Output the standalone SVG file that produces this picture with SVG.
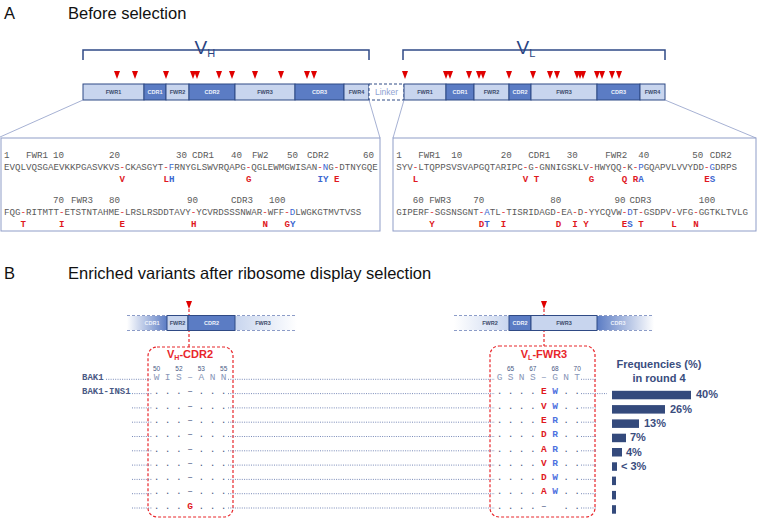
<svg xmlns="http://www.w3.org/2000/svg" width="757" height="519" viewBox="0 0 757 519">
<style>
.h{font-family:"Liberation Sans",Arial,sans-serif;fill:#111}
.lt{fill:#c8d5ee;stroke:#2f4a85;stroke-width:1}
.dk{fill:#5b7cc4;stroke:#2f4a85;stroke-width:1}
.st{font-family:"Liberation Sans",Arial,sans-serif;font-size:5.5px;font-weight:bold;text-anchor:middle}
.tl{fill:#3c4a6a}
.td{fill:#eef2fb}
.brace{fill:none;stroke:#2f4a87;stroke-width:1.5}
.vl{font-family:"Liberation Sans",Arial,sans-serif;fill:#2a4482}
.box{fill:#fff;stroke:#8f9dc8;stroke-width:1}
.cn{stroke:#8f9dc8;stroke-width:0.8;fill:none}
.seq{font-family:"Liberation Mono","Courier New",monospace;font-size:9.1667px;fill:#5a5a5a}
.mut{font-family:"Liberation Mono","Courier New",monospace;font-size:9.1667px;font-weight:bold;fill:#e0181e}
.r{fill:#e0181e}
.b{fill:#3b66d0}
.mb{fill:#3b66d0}
.red{fill:none;stroke:#e8262b;stroke-width:1.2;stroke-dasharray:3 2}
.dot{stroke:#6a7db0;stroke-width:0.9;stroke-dasharray:1 1.3}
.rl{font-family:"Liberation Mono","Courier New",monospace;font-size:9px;font-weight:bold;fill:#4a5a85}
.ch{font-family:"Liberation Mono","Courier New",monospace;font-size:9.5px;text-anchor:middle;fill:#4a5a85}
.wt{fill:#8896b8}
.cr{font-weight:bold;fill:#e0181e}
.cb{font-weight:bold;fill:#4d72e0}
.pn{font-family:"Liberation Sans",Arial,sans-serif;font-size:6.5px;text-anchor:middle;fill:#4a5a85}
.bar{fill:#344a7c}
.fq{font-family:"Liberation Sans",Arial,sans-serif;font-size:11px;font-weight:bold;fill:#3a4d7e}
.dsh{stroke:#8c9cc8;stroke-width:1;stroke-dasharray:3 2}
</style>
<defs>
<path id="tri" d="M-3,0 L3,0 L0,8 Z" fill="#e00000"/>
<linearGradient id="fadeDkL" x1="0" x2="1" y1="0" y2="0"><stop offset="0" stop-color="#5b7cc4" stop-opacity="0"/><stop offset="1" stop-color="#5b7cc4" stop-opacity="1"/></linearGradient>
<linearGradient id="fadeDkR" x1="0" x2="1" y1="0" y2="0"><stop offset="0" stop-color="#5b7cc4" stop-opacity="1"/><stop offset="1" stop-color="#5b7cc4" stop-opacity="0"/></linearGradient>
<linearGradient id="fadeLtL" x1="0" x2="1" y1="0" y2="0"><stop offset="0" stop-color="#c8d5ee" stop-opacity="0"/><stop offset="1" stop-color="#c8d5ee" stop-opacity="1"/></linearGradient>
<linearGradient id="fadeLtR" x1="0" x2="1" y1="0" y2="0"><stop offset="0" stop-color="#c8d5ee" stop-opacity="1"/><stop offset="1" stop-color="#c8d5ee" stop-opacity="0"/></linearGradient>
</defs>

<!-- Headings -->
<text class="h" x="4" y="18.5" font-size="16.5">A</text>
<text class="h" x="68" y="18.5" font-size="16.5">Before selection</text>
<text class="h" x="4" y="279" font-size="16.5">B</text>
<text class="h" x="68" y="279" font-size="16.5">Enriched variants after ribosome display selection</text>

<!-- Braces and chain labels -->
<g id="vh-label">
<path class="brace" d="M83,60 V50 H369 V60"/>
<text class="vl" x="194.5" y="54" font-size="19">V<tspan font-size="11" dy="2.5">H</tspan></text>
</g>
<g id="vl-label">
<path class="brace" d="M403,60 V50 H665 V60"/>
<text class="vl" x="516.5" y="54" font-size="19">V<tspan font-size="11" dy="2.5">L</tspan></text>
</g>

<!-- Triangles top -->
<g id="markers-top">
<use href="#tri" x="117" y="71"/><use href="#tri" x="135" y="71"/><use href="#tri" x="166" y="71"/>
<use href="#tri" x="193" y="71"/><use href="#tri" x="197" y="71"/><use href="#tri" x="219" y="71"/>
<use href="#tri" x="232" y="71"/><use href="#tri" x="255" y="71"/><use href="#tri" x="281" y="71"/>
<use href="#tri" x="307" y="71"/><use href="#tri" x="314" y="71"/>
<use href="#tri" x="405" y="71"/><use href="#tri" x="446" y="71"/><use href="#tri" x="450" y="71"/>
<use href="#tri" x="469" y="71"/><use href="#tri" x="479" y="71"/><use href="#tri" x="483" y="71"/>
<use href="#tri" x="509" y="71"/><use href="#tri" x="533" y="71"/><use href="#tri" x="550" y="71"/>
<use href="#tri" x="557" y="71"/><use href="#tri" x="577" y="71"/><use href="#tri" x="580" y="71"/>
<use href="#tri" x="583" y="71"/><use href="#tri" x="597" y="71"/><use href="#tri" x="602" y="71"/>
<use href="#tri" x="612" y="71"/><use href="#tri" x="619" y="71"/>
</g>

<!-- Top domain bar -->
<g id="vh-fwr1"><rect class="lt" x="83" y="84" width="61" height="16"/><text class="st tl" x="113.5" y="94">FWR1</text></g>
<g id="vh-cdr1"><rect class="dk" x="144" y="84" width="22" height="16"/><text class="st td" x="155" y="94">CDR1</text></g>
<g id="vh-fwr2"><rect class="lt" x="166" y="84" width="23" height="16"/><text class="st tl" x="177.5" y="94">FWR2</text></g>
<g id="vh-cdr2"><rect class="dk" x="189" y="84" width="46" height="16"/><text class="st td" x="212" y="94">CDR2</text></g>
<g id="vh-fwr3"><rect class="lt" x="235" y="84" width="60" height="16"/><text class="st tl" x="265" y="94">FWR3</text></g>
<g id="vh-cdr3"><rect class="dk" x="295" y="84" width="49" height="16"/><text class="st td" x="319.5" y="94">CDR3</text></g>
<g id="vh-fwr4"><rect class="lt" x="344" y="84" width="25" height="16"/><text class="st tl" x="356.5" y="94">FWR4</text></g>
<g id="linker"><rect x="369" y="84" width="35" height="16" fill="#fff" stroke="#2f4a85" stroke-width="1" stroke-dasharray="3 2"/><text x="386.5" y="95" font-family="Liberation Sans,Arial,sans-serif" font-size="8.5" text-anchor="middle" fill="#8ea2d2">Linker</text></g>
<g id="vl-fwr1"><rect class="lt" x="404" y="84" width="42" height="16"/><text class="st tl" x="425" y="94">FWR1</text></g>
<g id="vl-cdr1"><rect class="dk" x="446" y="84" width="28" height="16"/><text class="st td" x="460" y="94">CDR1</text></g>
<g id="vl-fwr2"><rect class="lt" x="474" y="84" width="35" height="16"/><text class="st tl" x="491.5" y="94">FWR2</text></g>
<g id="vl-cdr2"><rect class="dk" x="509" y="84" width="22" height="16"/><text class="st td" x="520" y="94">CDR2</text></g>
<g id="vl-fwr3"><rect class="lt" x="531" y="84" width="66" height="16"/><text class="st tl" x="564" y="94">FWR3</text></g>
<g id="vl-cdr3"><rect class="dk" x="597" y="84" width="43" height="16"/><text class="st td" x="618.5" y="94">CDR3</text></g>
<g id="vl-fwr4"><rect class="lt" x="640" y="84" width="25" height="16"/><text class="st tl" x="652.5" y="94">FWR4</text></g>

<!-- Connectors -->
<g id="connectors">
<path class="cn" d="M83,100 L0,137"/>
<path class="cn" d="M369,100 L380,138"/>
<path class="cn" d="M404,100 L393,138"/>
<path class="cn" d="M665,100 L756,138"/>
<path d="M189,309 V347" stroke="#e8262b" stroke-width="1.2" stroke-dasharray="3 2"/>
<path d="M544,309 V346" stroke="#e8262b" stroke-width="1.2" stroke-dasharray="3 2"/>
</g>

<!-- VH sequence box -->
<g id="vh-seq">
<rect class="box" x="1" y="138" width="379" height="93"/>
<g class="seq">
<text x="4" y="158">1</text><text x="26" y="158">FWR1</text><text x="53" y="158">10</text><text x="109" y="158">20</text><text x="176" y="158">30</text><text x="192" y="158">CDR1</text><text x="231" y="158">40</text><text x="252" y="158">FW2</text><text x="287" y="158">50</text><text x="307" y="158">CDR2</text><text x="363" y="158">60</text>
<text x="4" y="170">EVQLVQSGAEVKKPGASVKVS<tspan class="r">-</tspan>CKASGYT<tspan class="r">-</tspan><tspan class="b">F</tspan>RNYGLSWVRQAPG<tspan class="r">-</tspan>QGLEWMGWISAN<tspan class="r">-</tspan><tspan class="b">N</tspan>G<tspan class="r">-</tspan>DTNYGQE</text>
<text x="53" y="203">70</text><text x="71" y="203">FWR3</text><text x="109" y="203">80</text><text x="187" y="203">90</text><text x="231" y="203">CDR3</text><text x="269" y="203">100</text>
<text x="4" y="215">FQG<tspan class="r">-</tspan>RITMTT<tspan class="r">-</tspan>ETSTNTAHME<tspan class="r">-</tspan>LRSLRSDDTAVY<tspan class="r">-</tspan>YCVRDSSSNWAR<tspan class="r">-</tspan>WFF<tspan class="r">-</tspan><tspan class="b">D</tspan>LWGKGTMVTVSS</text>
</g>
<g class="mut">
<text x="119.5" y="182">V</text><text x="163.5" y="182">L</text><text x="169" y="182" class="mb">H</text><text x="246" y="182">G</text><text x="317.5" y="182" class="mb">I</text><text x="323" y="182" class="mb">Y</text><text x="334" y="182">E</text>
<text x="20.5" y="227">T</text><text x="59" y="227">I</text><text x="119.5" y="227">E</text><text x="191" y="227">H</text><text x="262.5" y="227">N</text><text x="284.5" y="227">G</text><text x="290" y="227" class="mb">Y</text>
</g>
</g>

<!-- VL sequence box -->
<g id="vl-seq">
<rect class="box" x="393" y="138" width="363" height="93"/>
<g class="seq">
<text x="396.3" y="158">1</text><text x="418.3" y="158">FWR1</text><text x="451.3" y="158">10</text><text x="500.8" y="158">20</text><text x="528.3" y="158">CDR1</text><text x="566.8" y="158">30</text><text x="605.3" y="158">FWR2</text><text x="638.3" y="158">40</text><text x="692.3" y="158">50</text><text x="709.8" y="158">CDR2</text>
<text x="396.3" y="170">SYV<tspan class="r">-</tspan>LTQPPSVSVAPGQTARIPC<tspan class="r">-</tspan>G<tspan class="r">-</tspan>GNNIGSKLV<tspan class="r">-</tspan>HWYQQ<tspan class="r">-</tspan>K<tspan class="r">-</tspan><tspan class="b">P</tspan>GQAPVLVVYDD<tspan class="r">-</tspan><tspan class="b">G</tspan>DRPS</text>
<text x="412.8" y="203">60</text><text x="429.3" y="203">FWR3</text><text x="473.3" y="203">70</text><text x="550.3" y="203">80</text><text x="614.5" y="203">90</text><text x="629.5" y="203">CDR3</text><text x="698.8" y="203">100</text>
<text x="396.3" y="215">GIPERF<tspan class="r">-</tspan>SGSNSGNT<tspan class="r">-</tspan><tspan class="b">A</tspan>TL<tspan class="r">-</tspan>TISRIDAGD<tspan class="r">-</tspan>EA<tspan class="r">-</tspan>D<tspan class="r">-</tspan>YYCQVW<tspan class="r">-</tspan><tspan class="b">D</tspan>T<tspan class="r">-</tspan>GSDPV<tspan class="r">-</tspan>VFG<tspan class="r">-</tspan>GGTKLTVLG</text>
</g>
<g class="mut">
<text x="412.8" y="182">L</text><text x="522.8" y="182">V</text><text x="533.8" y="182">T</text><text x="588.8" y="182">G</text><text x="621.8" y="182">Q</text><text x="632.8" y="182">R</text><text x="638.3" y="182" class="mb">A</text><text x="704.3" y="182">E</text><text x="709.8" y="182" class="mb">S</text>
<text x="429.3" y="227">Y</text><text x="478.8" y="227">D</text><text x="484.3" y="227" class="mb">T</text><text x="500.8" y="227">I</text><text x="555.8" y="227">D</text><text x="572.3" y="227">I</text><text x="583.3" y="227">Y</text><text x="621.8" y="227">E</text><text x="627.3" y="227" class="mb">S</text><text x="638.3" y="227">T</text><text x="671.3" y="227">L</text><text x="693.3" y="227">N</text>
</g>
</g>

<!-- Section B domain bars -->
<g id="b-vh-bar">
<line class="dsh" x1="127" y1="315.5" x2="297" y2="315.5"/>
<line class="dsh" x1="127" y1="330.5" x2="297" y2="330.5"/>
<rect x="127" y="316" width="40" height="14" fill="url(#fadeDkL)"/>
<rect x="235" y="316" width="62" height="14" fill="url(#fadeLtR)"/>
<rect class="lt" x="167" y="315.5" width="21" height="15"/>
<rect class="dk" x="188" y="315.5" width="47" height="15"/>
<text class="st td" x="152" y="325">CDR1</text>
<text class="st tl" x="177.5" y="325">FWR2</text>
<text class="st td" x="211.5" y="325">CDR2</text>
<text class="st tl" x="263" y="325">FWR3</text>
<use href="#tri" x="189" y="301"/>
</g>
<g id="b-vl-bar">
<line class="dsh" x1="454" y1="315.5" x2="654" y2="315.5"/>
<line class="dsh" x1="454" y1="330.5" x2="654" y2="330.5"/>
<rect x="454" y="316" width="55" height="14" fill="url(#fadeLtL)"/>
<rect x="597" y="316" width="57" height="14" fill="url(#fadeDkR)"/>
<rect class="dk" x="509" y="315.5" width="22" height="15"/>
<rect class="lt" x="531" y="315.5" width="66" height="15"/>
<text class="st tl" x="490" y="325">FWR2</text>
<text class="st td" x="520" y="325">CDR2</text>
<text class="st tl" x="564" y="325">FWR3</text>
<text class="st td" x="618" y="325">CDR3</text>
<use href="#tri" x="544" y="301"/>
</g>

<!-- Highlight boxes -->
<g id="vh-cdr2-box">
<rect class="red" x="148" y="347" width="85" height="170" rx="9"/>
<text x="190" y="358" text-anchor="middle" font-family="Liberation Sans,Arial,sans-serif" font-size="11" font-weight="bold" fill="#e8262b">V<tspan font-size="7" dy="2">H</tspan><tspan dy="-2">-CDR2</tspan></text>
<text class="pn" x="156.5" y="371">50</text><text class="pn" x="178.9" y="371">52</text><text class="pn" x="201.3" y="371">53</text><text class="pn" x="223.7" y="371">55</text>
</g>
<g id="vl-fwr3-box">
<rect class="red" x="490" y="346" width="105" height="171" rx="9"/>
<text x="544" y="358" text-anchor="middle" font-family="Liberation Sans,Arial,sans-serif" font-size="11" font-weight="bold" fill="#e8262b">V<tspan font-size="7" dy="2">L</tspan><tspan dy="-2">-FWR3</tspan></text>
<text class="pn" x="510.6" y="371">65</text><text class="pn" x="532.8" y="371">67</text><text class="pn" x="555" y="371">68</text><text class="pn" x="577.2" y="371">70</text>
</g>

<!-- Alignment rows -->
<g id="rows-lines">
<line class="dot" x1="106" y1="379.3" x2="152" y2="379.3"/><line class="dot" x1="228" y1="379.3" x2="495" y2="379.3"/><line class="dot" x1="581" y1="379.3" x2="597" y2="379.3"/>
<line class="dot" x1="132" y1="393.6" x2="152" y2="393.6"/><line class="dot" x1="228" y1="393.6" x2="495" y2="393.6"/><line class="dot" x1="581" y1="393.6" x2="607" y2="393.6"/>
<line class="dot" x1="132" y1="407.9" x2="152" y2="407.9"/><line class="dot" x1="228" y1="407.9" x2="495" y2="407.9"/><line class="dot" x1="581" y1="407.9" x2="597" y2="407.9"/>
<line class="dot" x1="132" y1="422.2" x2="152" y2="422.2"/><line class="dot" x1="228" y1="422.2" x2="495" y2="422.2"/><line class="dot" x1="581" y1="422.2" x2="597" y2="422.2"/>
<line class="dot" x1="132" y1="436.5" x2="152" y2="436.5"/><line class="dot" x1="228" y1="436.5" x2="495" y2="436.5"/><line class="dot" x1="581" y1="436.5" x2="597" y2="436.5"/>
<line class="dot" x1="132" y1="450.8" x2="152" y2="450.8"/><line class="dot" x1="228" y1="450.8" x2="495" y2="450.8"/><line class="dot" x1="581" y1="450.8" x2="597" y2="450.8"/>
<line class="dot" x1="132" y1="465.1" x2="152" y2="465.1"/><line class="dot" x1="228" y1="465.1" x2="495" y2="465.1"/><line class="dot" x1="581" y1="465.1" x2="597" y2="465.1"/>
<line class="dot" x1="132" y1="479.4" x2="152" y2="479.4"/><line class="dot" x1="228" y1="479.4" x2="495" y2="479.4"/><line class="dot" x1="581" y1="479.4" x2="597" y2="479.4"/>
<line class="dot" x1="132" y1="493.7" x2="152" y2="493.7"/><line class="dot" x1="228" y1="493.7" x2="495" y2="493.7"/><line class="dot" x1="581" y1="493.7" x2="597" y2="493.7"/>
<line class="dot" x1="132" y1="508" x2="152" y2="508"/><line class="dot" x1="228" y1="508" x2="495" y2="508"/><line class="dot" x1="581" y1="508" x2="597" y2="508"/>
</g>

<g id="row-bak1">
<text class="rl" x="82" y="380">BAK1</text>
<g class="ch wt">
<text x="156.5" y="380">W</text><text x="167.7" y="380">I</text><text x="178.9" y="380">S</text><text x="190.1" y="380">–</text><text x="201.3" y="380">A</text><text x="212.5" y="380">N</text><text x="223.7" y="380">N</text>
<text x="499.5" y="380">G</text><text x="510.6" y="380">S</text><text x="521.7" y="380">N</text><text x="532.8" y="380">S</text><text x="543.9" y="380">–</text><text x="555" y="380">G</text><text x="566.1" y="380">N</text><text x="577.2" y="380">T</text>
</g>
</g>
<g id="row-ins1">
<text class="rl" x="82" y="394.3">BAK1-INS1</text>
<g class="ch">
<text x="156.5" y="394.3">.</text><text x="167.7" y="394.3">.</text><text x="178.9" y="394.3">.</text><text x="190.1" y="394.3">–</text><text x="201.3" y="394.3">.</text><text x="212.5" y="394.3">.</text><text x="223.7" y="394.3">.</text>
<text x="499.5" y="394.3">.</text><text x="510.6" y="394.3">.</text><text x="521.7" y="394.3">.</text><text x="532.8" y="394.3">.</text><text x="543.9" y="394.3" class="cr">E</text><text x="555" y="394.3" class="cb">W</text><text x="566.1" y="394.3">.</text><text x="577.2" y="394.3">.</text>
</g>
</g>
<g id="row-3" class="ch">
<text x="156.5" y="408.6">.</text><text x="167.7" y="408.6">.</text><text x="178.9" y="408.6">.</text><text x="190.1" y="408.6">–</text><text x="201.3" y="408.6">.</text><text x="212.5" y="408.6">.</text><text x="223.7" y="408.6">.</text>
<text x="499.5" y="408.6">.</text><text x="510.6" y="408.6">.</text><text x="521.7" y="408.6">.</text><text x="532.8" y="408.6">.</text><text x="543.9" y="408.6" class="cr">V</text><text x="555" y="408.6" class="cb">W</text><text x="566.1" y="408.6">.</text><text x="577.2" y="408.6">.</text>
</g>
<g id="row-4" class="ch">
<text x="156.5" y="422.9">.</text><text x="167.7" y="422.9">.</text><text x="178.9" y="422.9">.</text><text x="190.1" y="422.9">–</text><text x="201.3" y="422.9">.</text><text x="212.5" y="422.9">.</text><text x="223.7" y="422.9">.</text>
<text x="499.5" y="422.9">.</text><text x="510.6" y="422.9">.</text><text x="521.7" y="422.9">.</text><text x="532.8" y="422.9">.</text><text x="543.9" y="422.9" class="cr">E</text><text x="555" y="422.9" class="cb">R</text><text x="566.1" y="422.9">.</text><text x="577.2" y="422.9">.</text>
</g>
<g id="row-5" class="ch">
<text x="156.5" y="437.2">.</text><text x="167.7" y="437.2">.</text><text x="178.9" y="437.2">.</text><text x="190.1" y="437.2">–</text><text x="201.3" y="437.2">.</text><text x="212.5" y="437.2">.</text><text x="223.7" y="437.2">.</text>
<text x="499.5" y="437.2">.</text><text x="510.6" y="437.2">.</text><text x="521.7" y="437.2">.</text><text x="532.8" y="437.2">.</text><text x="543.9" y="437.2" class="cr">D</text><text x="555" y="437.2" class="cb">R</text><text x="566.1" y="437.2">.</text><text x="577.2" y="437.2">.</text>
</g>
<g id="row-6" class="ch">
<text x="156.5" y="451.5">.</text><text x="167.7" y="451.5">.</text><text x="178.9" y="451.5">.</text><text x="190.1" y="451.5">–</text><text x="201.3" y="451.5">.</text><text x="212.5" y="451.5">.</text><text x="223.7" y="451.5">.</text>
<text x="499.5" y="451.5">.</text><text x="510.6" y="451.5">.</text><text x="521.7" y="451.5">.</text><text x="532.8" y="451.5">.</text><text x="543.9" y="451.5" class="cr">A</text><text x="555" y="451.5" class="cb">R</text><text x="566.1" y="451.5">.</text><text x="577.2" y="451.5">.</text>
</g>
<g id="row-7" class="ch">
<text x="156.5" y="465.8">.</text><text x="167.7" y="465.8">.</text><text x="178.9" y="465.8">.</text><text x="190.1" y="465.8">–</text><text x="201.3" y="465.8">.</text><text x="212.5" y="465.8">.</text><text x="223.7" y="465.8">.</text>
<text x="499.5" y="465.8">.</text><text x="510.6" y="465.8">.</text><text x="521.7" y="465.8">.</text><text x="532.8" y="465.8">.</text><text x="543.9" y="465.8" class="cr">V</text><text x="555" y="465.8" class="cb">R</text><text x="566.1" y="465.8">.</text><text x="577.2" y="465.8">.</text>
</g>
<g id="row-8" class="ch">
<text x="156.5" y="480.1">.</text><text x="167.7" y="480.1">.</text><text x="178.9" y="480.1">.</text><text x="190.1" y="480.1">–</text><text x="201.3" y="480.1">.</text><text x="212.5" y="480.1">.</text><text x="223.7" y="480.1">.</text>
<text x="499.5" y="480.1">.</text><text x="510.6" y="480.1">.</text><text x="521.7" y="480.1">.</text><text x="532.8" y="480.1">.</text><text x="543.9" y="480.1" class="cr">D</text><text x="555" y="480.1" class="cb">W</text><text x="566.1" y="480.1">.</text><text x="577.2" y="480.1">.</text>
</g>
<g id="row-9" class="ch">
<text x="156.5" y="494.4">.</text><text x="167.7" y="494.4">.</text><text x="178.9" y="494.4">.</text><text x="190.1" y="494.4">–</text><text x="201.3" y="494.4">.</text><text x="212.5" y="494.4">.</text><text x="223.7" y="494.4">.</text>
<text x="499.5" y="494.4">.</text><text x="510.6" y="494.4">.</text><text x="521.7" y="494.4">.</text><text x="532.8" y="494.4">.</text><text x="543.9" y="494.4" class="cr">A</text><text x="555" y="494.4" class="cb">W</text><text x="566.1" y="494.4">.</text><text x="577.2" y="494.4">.</text>
</g>
<g id="row-10" class="ch">
<text x="156.5" y="508.7">.</text><text x="167.7" y="508.7">.</text><text x="178.9" y="508.7">.</text><text x="190.1" y="508.7" class="cr">G</text><text x="201.3" y="508.7">.</text><text x="212.5" y="508.7">.</text><text x="223.7" y="508.7">.</text>
<text x="499.5" y="508.7">.</text><text x="510.6" y="508.7">.</text><text x="521.7" y="508.7">.</text><text x="532.8" y="508.7">.</text><text x="543.9" y="508.7">–</text><text x="566.1" y="508.7">.</text><text x="577.2" y="508.7">.</text>
</g>

<!-- Frequencies -->
<g id="frequencies">
<text class="fq" x="659" y="368" text-anchor="middle" font-size="12">Frequencies (%)</text>
<text class="fq" x="659" y="381.5" text-anchor="middle" font-size="12">in round 4</text>
<rect class="bar" x="612" y="390.8" width="79" height="8.5"/><text class="fq" x="696" y="398.3">40%</text>
<rect class="bar" x="612" y="405.1" width="53" height="8.5"/><text class="fq" x="670" y="412.6">26%</text>
<rect class="bar" x="612" y="419.4" width="27" height="8.5"/><text class="fq" x="644" y="426.9">13%</text>
<rect class="bar" x="612" y="433.7" width="14" height="8.5"/><text class="fq" x="630" y="441.2">7%</text>
<rect class="bar" x="612" y="448" width="10" height="8.5"/><text class="fq" x="626" y="455.5">4%</text>
<rect class="bar" x="612" y="462.3" width="5" height="8.5"/><text class="fq" x="621" y="469.8">&lt; 3%</text>
<rect class="bar" x="612" y="476.6" width="4" height="8.5"/>
<rect class="bar" x="612" y="490.9" width="4" height="8.5"/>
<rect class="bar" x="612" y="505.2" width="4" height="8.5"/>
</g>
</svg>
